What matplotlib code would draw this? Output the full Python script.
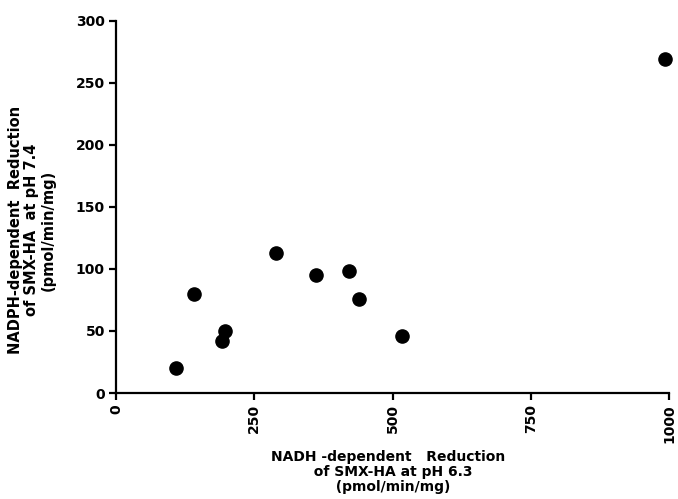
import matplotlib
matplotlib.use("Agg")
import matplotlib.pyplot as plt

nadh = [108, 142, 191, 197, 289, 361, 421, 439, 517, 993]
nadph = [20, 80, 42, 50, 113, 95, 98, 76, 46, 269]
xticks = [0, 250, 500, 750, 1000]
yticks = [0, 50, 100, 150, 200, 250, 300]

plt.rcParams['font.family'] = ['DejaVu Sans']
plt.rcParams['font.weight'] = 'bold'

fig = plt.figure(figsize=(6.78, 4.99), dpi=100)
ax = fig.add_axes([0.171, 0.2124, 0.816, 0.746])
ax.scatter(nadh, nadph, s=90, color='black', zorder=3, clip_on=False)
ax.set_xlim(0, 1000)
ax.set_ylim(0, 300)
ax.set_xticks(xticks)
ax.set_yticks(yticks)
ax.set_xticklabels([str(t) for t in xticks], rotation=90, fontsize=10, fontweight='bold')
ax.set_yticklabels([str(t) for t in yticks], fontsize=10, fontweight='bold')
for s in ['top', 'right']:
    ax.spines[s].set_visible(False)
for s in ['left', 'bottom']:
    ax.spines[s].set_linewidth(1.6)
ax.tick_params(axis='both', direction='out', length=5, width=1.6, pad=3)

fig.text(0.572, 0.054, "NADH -dependent   Reduction\n  of SMX-HA at pH 6.3\n  (pmol/min/mg)",
         ha='center', va='center', fontsize=10, fontweight='bold', linespacing=1.1)
fig.text(0.047, 0.539, "NADPH-dependent  Reduction\nof SMX-HA  at pH 7.4\n(pmol/min/mg)",
         ha='center', va='center', rotation=90, fontsize=10.5, fontweight='bold', linespacing=1.12)

fig.savefig("out.png", dpi=100)
